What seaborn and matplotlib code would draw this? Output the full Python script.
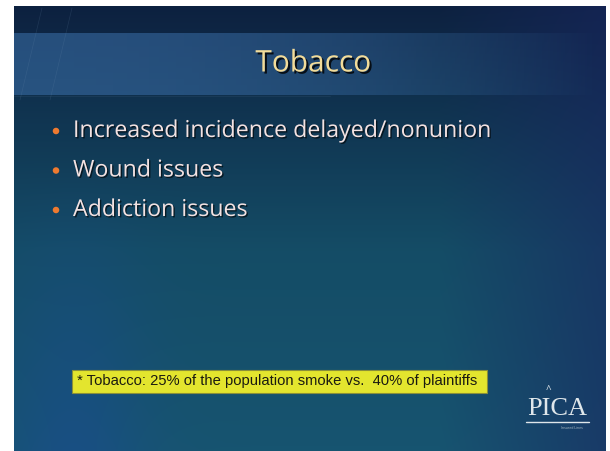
import numpy as np
import pandas as pd
import matplotlib
matplotlib.use("Agg")
import matplotlib.pyplot as plt
import matplotlib.patheffects as pe
import seaborn as sns

# slide content
title = "Tobacco"
bullets = ["Increased incidence delayed/nonunion", "Wound issues", "Addiction issues"]
footnote = "* Tobacco: 25% of the population smoke vs.  40% of plaintiffs"
logo = "PICA"

sns.set_theme(style="white")
plt.rcParams['font.family'] = ['Open Sans', 'DejaVu Sans']

W, H = 610, 451
fig = plt.figure(figsize=(6.1, 4.51), dpi=100)
ax = fig.add_axes([0, 0, 1, 1])
ax.set_xlim(0, W)
ax.set_ylim(H, 0)
ax.axis("off")

# slide background (x 14..606, y 6..451)
x0, x1, y0, y1 = 14, 606, 6, 451
gx, gy = np.meshgrid(np.linspace(0, 1, 300), np.linspace(0, 1, 220))
top = np.array([0.05, 0.13, 0.25])
mid = np.array([0.08, 0.30, 0.40])
bot = np.array([0.09, 0.33, 0.44])
t = gy[..., None]
col = np.where(t < 0.55, top + (mid - top) * (t / 0.55), mid + (bot - mid) * ((t - 0.55) / 0.45))
# indigo towards the right edge
right = np.clip((gx - 0.72) / 0.28, 0, 1)[..., None] * 0.55
col = col * (1 - right) + np.array([0.10, 0.15, 0.38]) * right
# blue glow at lower left
glow = np.exp(-((gx - 0.1) / 0.12) ** 2) * np.clip((gy - 0.35) / 0.65, 0, 1)
glow = glow[..., None] * 0.6
col = col * (1 - glow) + np.array([0.10, 0.30, 0.56]) * glow
ax.imshow(col, extent=(x0, x1, y1, y0), aspect="auto", zorder=0)

# title band
band = np.zeros((10, 300, 4))
band[..., :3] = [0.22, 0.42, 0.64]
band[..., 3] = np.clip(1 - np.linspace(0, 1, 300) ** 2.2, 0, 1)[None, :] * 0.6
ax.imshow(band, extent=(x0, 600, 95, 33), aspect="auto", zorder=1)

# faint frame lines at top-left
for xa, xb in [(20, 42), (50, 72)]:
    ax.plot([xa, xb], [100, 8], color="#6f8fb0", lw=0.5, alpha=0.18, zorder=1)
ax.plot([14, 330], [96, 96], color="#6f8fb0", lw=0.5, alpha=0.15, zorder=1)

ax.text(313, 64, title, ha="center", va="center", fontsize=21.5, color="#f2dc9a", zorder=3,
        path_effects=[pe.withSimplePatchShadow(offset=(1.5, -1.5), shadow_rgbFace="black", alpha=0.8)])

# bullets
df = pd.DataFrame({"text": bullets, "row": range(len(bullets))})
df["y"] = 131 + df["row"] * 39.5
df["x"] = 56
sns.scatterplot(data=df, x="x", y="y", ax=ax, color="#ee7a30", s=22, edgecolor="none", zorder=3, legend=False)
for _, r in df.iterrows():
    ax.text(73, r["y"], r["text"], ha="left", va="center", fontsize=16.7, color="#f3e2e2", zorder=3,
            path_effects=[pe.withSimplePatchShadow(offset=(1, -1), shadow_rgbFace="black", alpha=0.6)])

# footnote box
ax.add_patch(plt.Rectangle((72, 370), 415, 23, facecolor="#e3e52e", edgecolor="#8a8f3a", lw=0.8, zorder=3))
ax.text(77, 381.5, footnote, ha="left", va="center", fontsize=10.6, color="#1a1a10",
        family=["Liberation Sans", "DejaVu Sans"], zorder=4)

# logo
ax.text(557, 409, logo, ha="center", va="center", fontsize=19, color="#dfe6ea",
        family=["Liberation Serif", "DejaVu Serif"], zorder=3)
ax.plot([526, 589], [422, 422], color="#dfe6ea", lw=1, zorder=3)
ax.text(572, 428, "Insured Lines", ha="center", va="center", fontsize=2.5, color="#b0c0c8", zorder=3)
ax.text(548, 391, "^", ha="center", va="center", fontsize=7, color="#dfe6ea", zorder=3)

fig.savefig("out.png", dpi=100)
